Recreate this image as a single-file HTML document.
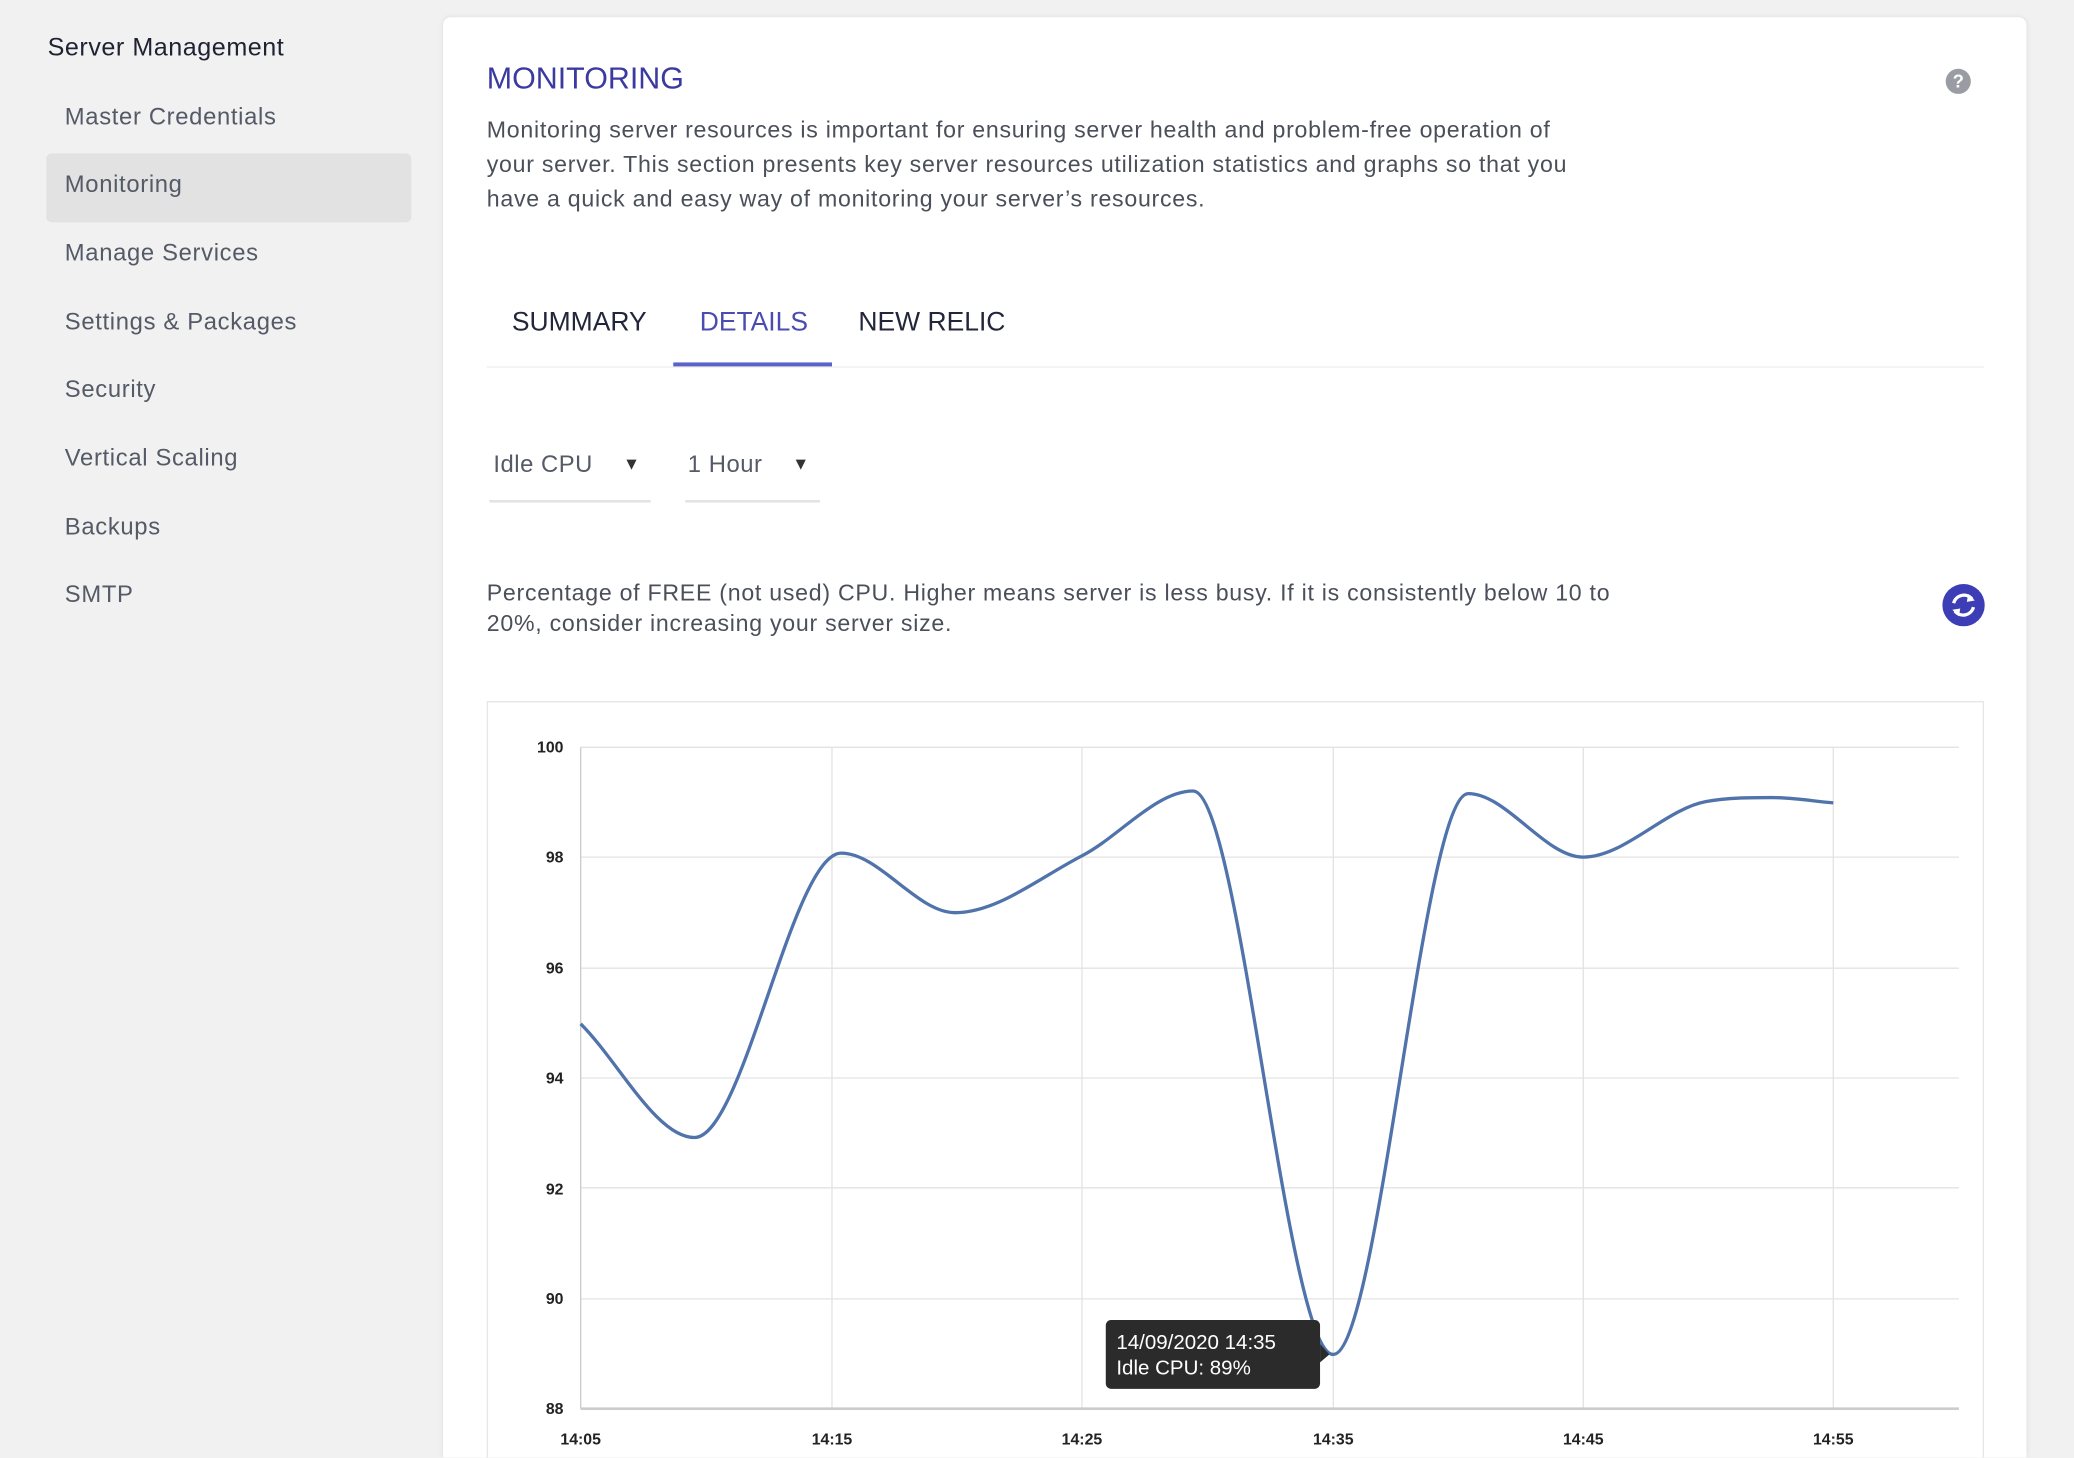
<!DOCTYPE html>
<html><head><meta charset="utf-8"><style>
html,body{margin:0;padding:0;width:2074px;height:1458px;overflow:hidden;background:#f1f1f1;font-family:"Liberation Sans",sans-serif;}
#w{position:absolute;left:0;top:0;width:1568px;height:1102px;overflow:hidden;transform:scale(1.32270);transform-origin:0 0;}
.a{position:absolute;white-space:nowrap;}
.nav{color:#545a66;font-size:18px;left:49px;letter-spacing:0.5px;}
.card{position:absolute;left:335px;top:13px;width:1197px;height:1089px;background:#fff;border-radius:6px 6px 0 0;box-shadow:0 0 4px rgba(0,0,0,.08);}
.p{color:#4a4f5a;font-size:17.5px;letter-spacing:0.55px;}
</style></head><body><div id="w">
<div class="a" style="left:36px;top:26px;font-size:19px;color:#1e2233;letter-spacing:0.4px">Server Management</div>
<div class="a nav" style="top:78px">Master Credentials</div>
<div style="position:absolute;left:35px;top:116px;width:276px;height:52px;background:#e2e2e2;border-radius:4px"></div>
<div class="a nav" style="top:129px">Monitoring</div>
<div class="a nav" style="top:181px">Manage Services</div>
<div class="a nav" style="top:233px">Settings &amp; Packages</div>
<div class="a nav" style="top:284px">Security</div>
<div class="a nav" style="top:336px">Vertical Scaling</div>
<div class="a nav" style="top:388px">Backups</div>
<div class="a nav" style="top:439px">SMTP</div>
<div class="card"></div>
<div class="a" style="left:368px;top:46px;font-size:23px;color:#3a3aa0;">MONITORING</div>
<div style="position:absolute;left:1471px;top:52px;width:19px;height:19px;border-radius:50%;background:#9a9ca3;color:#fff;font-size:14px;text-align:center;line-height:19px;font-weight:bold">?</div>
<div class="a p" style="left:368px;top:85px;line-height:26px">Monitoring server resources is important for ensuring server health and problem-free operation of<br>your server. This section presents key server resources utilization statistics and graphs so that you<br>have a quick and easy way of monitoring your server’s resources.</div>
<div class="a" style="left:387px;top:233px;font-size:20px;color:#23263a">SUMMARY</div>
<div class="a" style="left:529px;top:233px;font-size:20px;color:#4a4cb0">DETAILS</div>
<div class="a" style="left:649px;top:233px;font-size:20px;color:#23263a">NEW RELIC</div>
<div style="position:absolute;left:368px;top:277px;width:1132px;height:1px;background:#eee"></div>
<div style="position:absolute;left:509px;top:274px;width:120px;height:3px;background:#5b62c9"></div>
<div class="a" style="left:373px;top:341px;font-size:18px;color:#555a66;letter-spacing:0.4px">Idle CPU</div>
<div class="a" style="left:471px;top:343px;font-size:13px;color:#333">▼</div>
<div style="position:absolute;left:370px;top:378px;width:122px;height:2px;background:#e4e4e4"></div>
<div class="a" style="left:520px;top:341px;font-size:18px;color:#555a66;letter-spacing:0.4px">1 Hour</div>
<div class="a" style="left:599px;top:343px;font-size:13px;color:#333">▼</div>
<div style="position:absolute;left:518px;top:378px;width:102px;height:2px;background:#e4e4e4"></div>
<div class="a p" style="left:368px;top:437px;line-height:23px">Percentage of FREE (not used) CPU. Higher means server is less busy. If it is consistently below 10 to<br>20%, consider increasing your server size.</div>
<svg style="position:absolute;left:1468px;top:441px" width="33" height="33" viewBox="0 0 33 33"><circle cx="16.5" cy="16.5" r="16" fill="#3d3db5"/><path d="M9 15 A8 8 0 0 1 23 12" stroke="#fff" stroke-width="2.5" fill="none"/><path d="M24 18 A8 8 0 0 1 10 21" stroke="#fff" stroke-width="2.5" fill="none"/><path d="M20 8 L25 13 L19 14Z M13 25 L8 20 L14 19Z" fill="#fff"/></svg>
<svg style="position:absolute;left:0;top:0" width="1568" height="1102">
<rect x="368.5" y="530.5" width="1131" height="572" fill="#fff" stroke="#e6e6e6"/>
<g stroke="#e3e3e3" stroke-width="1">
<line x1="439" x2="1481" y1="565" y2="565"/><line x1="439" x2="1481" y1="648" y2="648"/><line x1="439" x2="1481" y1="732" y2="732"/><line x1="439" x2="1481" y1="815" y2="815"/><line x1="439" x2="1481" y1="898" y2="898"/><line x1="439" x2="1481" y1="982" y2="982"/>
<line x1="629" x2="629" y1="565" y2="1065"/><line x1="818" x2="818" y1="565" y2="1065"/><line x1="1008" x2="1008" y1="565" y2="1065"/><line x1="1197" x2="1197" y1="565" y2="1065"/><line x1="1386" x2="1386" y1="565" y2="1065"/>
</g>
<line x1="439" x2="439" y1="565" y2="1065" stroke="#ccc"/>
<line x1="439" x2="1481" y1="1065" y2="1065" stroke="#ccc" stroke-width="2"/>
<g font-size="12" font-weight="bold" fill="#222" text-anchor="end">
<text x="426" y="569">100</text><text x="426" y="652">98</text><text x="426" y="736">96</text><text x="426" y="819">94</text><text x="426" y="903">92</text><text x="426" y="986">90</text><text x="426" y="1069">88</text></g>
<g font-size="12" font-weight="bold" fill="#222" text-anchor="middle">
<text x="439" y="1092">14:05</text><text x="629" y="1092">14:15</text><text x="818" y="1092">14:25</text><text x="1008" y="1092">14:35</text><text x="1197" y="1092">14:45</text><text x="1386" y="1092">14:55</text></g>
<path id="ln" d="" fill="none" stroke="#4f73aa" stroke-width="2.5"/>
<rect x="836" y="998" width="162" height="52" rx="4" fill="#2b2b2b"/>
<path d="M998 1016 L1005 1024 L998 1030Z" fill="#2b2b2b"/>
<text x="844" y="1020" font-size="15.5" fill="#fff">14/09/2020 14:35</text>
<text x="844" y="1039" font-size="15.5" fill="#fff">Idle CPU: 89%</text>
</svg>
</div>
<script>
var P=[[439,774],[525,860],[636,645],[722,690],[818,647],[902,598],[1008,1024],[1110,600],[1197,648],[1290,606],[1340,603],[1386,607]];
var n=P.length,d=[],m=[];
for(var i=0;i<n-1;i++)d.push((P[i+1][1]-P[i][1])/(P[i+1][0]-P[i][0]));
m[0]=d[0];m[n-1]=d[n-2];
for(i=1;i<n-1;i++){m[i]=(d[i-1]*d[i]<=0)?0:(d[i-1]+d[i])/2;}
for(i=0;i<n-1;i++){if(d[i]==0){m[i]=m[i+1]=0;continue;}var a=m[i]/d[i],b=m[i+1]/d[i],s=a*a+b*b;if(s>9){var t=3/Math.sqrt(s);m[i]=t*a*d[i];m[i+1]=t*b*d[i];}}
var s="M"+P[0][0]+","+P[0][1];
for(i=0;i<n-1;i++){var h=(P[i+1][0]-P[i][0])/3;s+=" C"+(P[i][0]+h)+","+(P[i][1]+m[i]*h)+" "+(P[i+1][0]-h)+","+(P[i+1][1]-m[i+1]*h)+" "+P[i+1][0]+","+P[i+1][1];}
document.getElementById("ln").setAttribute("d",s);
</script>
</body></html>
